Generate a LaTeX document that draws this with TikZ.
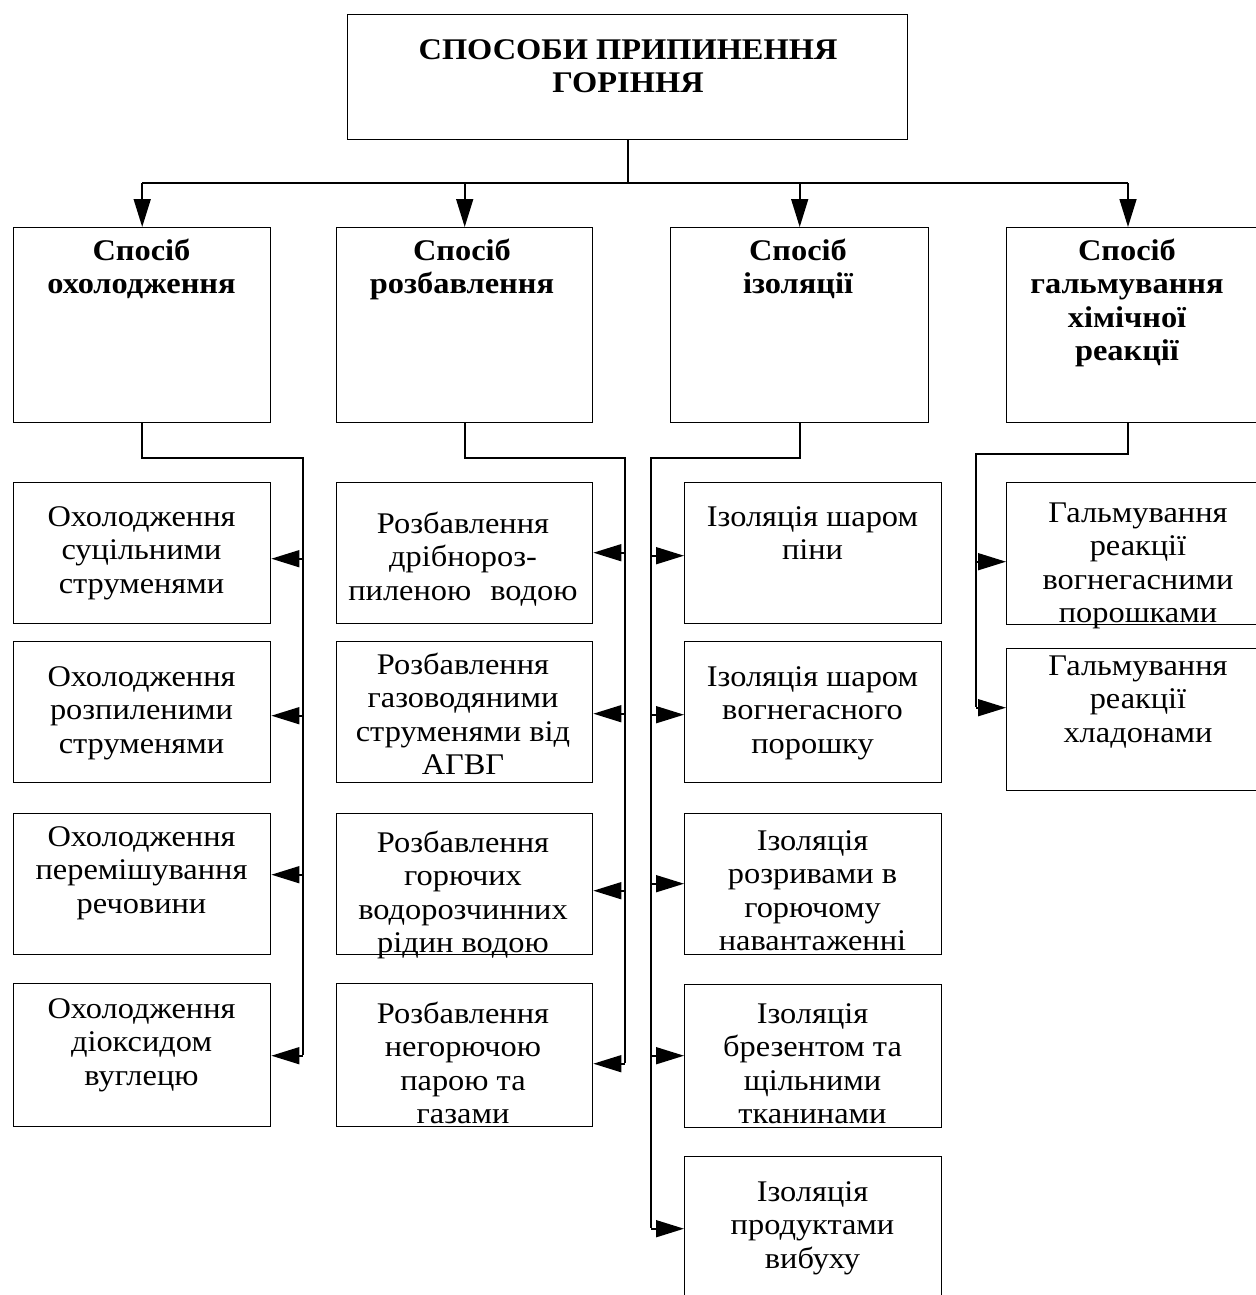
\documentclass[tikz,border=0pt]{standalone}
\usepackage{fontspec}
\setmainfont{Liberation Serif}[FakeStretch=1.08]
\usetikzlibrary{arrows.meta,calc}
\newcommand\fs{\rule{0pt}{24pt}}
\begin{document}
\begin{tikzpicture}[x=1pt,y=-1pt,
  box/.style={draw, line width=1.4pt, inner sep=0pt, anchor=north west},
  txt/.style={inner sep=0pt, anchor=north, align=center, font=\fontsize{30}{33.5}\selectfont},
  btxt/.style={inner sep=0pt, anchor=north, align=center, font=\fontsize{30}{33.5}\selectfont\bfseries},
  conn/.style={line width=1.6pt},
  arr/.style={conn, -{Triangle[length=28pt,width=17pt]}},
  tip/.style={conn, {Triangle[length=28pt,width=17pt]}-}]
\useasboundingbox (0,0) rectangle (1255,1295);
% top
\node[box, minimum width=560pt, minimum height=125pt] (top) at (347,14) {};
\node[btxt] (topt) at (628,35) {\fs СПОСОБИ ПРИПИНЕННЯ\\ГОРІННЯ};
% level 1
\node[box, minimum width=257pt, minimum height=195pt] (l1) at (13,227) {};
\node[box, minimum width=256pt, minimum height=195pt] (l2) at (336,227) {};
\node[box, minimum width=258pt, minimum height=195pt] (l3) at (670,227) {};
\node[box, minimum width=262pt, minimum height=195pt] (l4) at (1006,227) {};
\node[btxt] (l1t) at (141.5,236) {\fs Спосіб\\охолодження};
\node[btxt] (l2t) at (462,236) {\fs Спосіб\\розбавлення};
\node[btxt] (l3t) at (798,236) {\fs Спосіб\\ізоляції};
\node[btxt] (l4t) at (1127,236) {\fs Спосіб\\гальмування\\хімічної\\реакції};
% level 2 column 1
\node[box, minimum width=257pt, minimum height=141pt] (c1a) at (13,482) {};
\node[box, minimum width=257pt, minimum height=141pt] (c1b) at (13,641) {};
\node[box, minimum width=257pt, minimum height=141pt] (c1c) at (13,813) {};
\node[box, minimum width=257pt, minimum height=143pt] (c1d) at (13,983) {};
\node[txt] (c1at) at (141.5,502) {\fs Охолодження\\суцільними\\струменями};
\node[txt] (c1bt) at (141.5,662) {\fs Охолодження\\розпиленими\\струменями};
\node[txt] (c1ct) at (141.5,822) {\fs Охолодження\\перемішування\\речовини};
\node[txt] (c1dt) at (141.5,994) {\fs Охолодження\\діоксидом\\вуглецю};
% level 2 column 2
\node[box, minimum width=256pt, minimum height=141pt] (c2a) at (336,482) {};
\node[box, minimum width=256pt, minimum height=141pt] (c2b) at (336,641) {};
\node[box, minimum width=256pt, minimum height=141pt] (c2c) at (336,813) {};
\node[box, minimum width=256pt, minimum height=143pt] (c2d) at (336,983) {};
\node[txt] (c2at) at (463,509) {\fs Розбавлення\\дрібнороз-\\пиленою\hspace{19pt}водою};
\node[txt] (c2bt) at (463,650) {\fs Розбавлення\\газоводяними\\струменями від\\АГВГ};
\node[txt] (c2ct) at (463,828) {\fs Розбавлення\\горючих\\водорозчинних\\рідин водою};
\node[txt] (c2dt) at (463,999) {\fs Розбавлення\\негорючою\\парою та\\газами};
% level 2 column 3
\node[box, minimum width=257pt, minimum height=141pt] (c3a) at (684,482) {};
\node[box, minimum width=257pt, minimum height=141pt] (c3b) at (684,641) {};
\node[box, minimum width=257pt, minimum height=141pt] (c3c) at (684,813) {};
\node[box, minimum width=257pt, minimum height=143pt] (c3d) at (684,984) {};
\node[box, minimum width=257pt, minimum height=141pt] (c3e) at (684,1156) {};
\node[txt] (c3at) at (812.5,502) {\fs Ізоляція шаром\\піни};
\node[txt] (c3bt) at (812.5,662) {\fs Ізоляція шаром\\вогнегасного\\порошку};
\node[txt] (c3ct) at (812.5,826) {\fs Ізоляція\\розривами в\\горючому\\навантаженні};
\node[txt] (c3dt) at (812.5,999) {\fs Ізоляція\\брезентом та\\щільними\\тканинами};
\node[txt] (c3et) at (812.5,1177) {\fs Ізоляція\\продуктами\\вибуху};
% level 2 column 4
\node[box, minimum width=264pt, minimum height=142pt] (c4a) at (1006,482) {};
\node[box, minimum width=264pt, minimum height=142pt] (c4b) at (1006,648) {};
\node[txt] (c4at) at (1138,498) {\fs Гальмування\\реакції\\вогнегасними\\порошками};
\node[txt] (c4bt) at (1138,651) {\fs Гальмування\\реакції\\хладонами};
% top connectors
\coordinate (hub) at (628,183);
\coordinate (h4) at (1128,183);
\draw[conn] (top.south) -- (top.south |- hub);
\draw[conn] (l1.north |- hub) -- (h4);
\draw[arr] (l1.north |- hub) -- (l1.north);
\draw[arr] (l2.north |- hub) -- (l2.north);
\draw[arr] (l3.north |- hub) -- (l3.north);
\draw[arr] (h4) -- (h4 |- l4.north);
% buses
\coordinate (k1) at (303,458); \coordinate (k1e) at (303,1055);
\coordinate (k2) at (625,458); \coordinate (k2e) at (625,1063);
\coordinate (k3) at (651,458); \coordinate (k3e) at (651,1228);
\coordinate (k4) at (976,454); \coordinate (k4e) at (976,707);
\draw[conn] (l1.south) |- (k1) -- (k1e);
\draw[conn] (l2.south) |- (k2) -- (k2e);
\draw[conn] (l3.south) |- (k3) -- (k3e);
\draw[conn] (h4 |- l4.south) |- (k4) -- (k4e);
% column 1 arrows
\draw[tip] ($(c1a.east)+(0,5.5)$) coordinate (t) -- (t -| k1);
\draw[tip] ($(c1b.east)+(0,3.5)$) coordinate (t) -- (t -| k1);
\draw[tip] ($(c1c.east)+(0,-9.5)$) coordinate (t) -- (t -| k1);
\draw[tip] ($(c1d.east)+(0,0.5)$) coordinate (t) -- (t -| k1);
% column 2 arrows
\draw[tip] ($(c2a.east)+(0,-0.5)$) coordinate (t) -- (t -| k2);
\draw[tip] ($(c2b.east)+(0,1.5)$) coordinate (t) -- (t -| k2);
\draw[tip] ($(c2c.east)+(0,6.5)$) coordinate (t) -- (t -| k2);
\draw[tip] ($(c2d.east)+(0,8.5)$) coordinate (t) -- (t -| k2);
% column 3 arrows
\draw[tip] ($(c3a.west)+(0,2.5)$) coordinate (t) -- (t -| k3);
\draw[tip] ($(c3b.west)+(0,2.5)$) coordinate (t) -- (t -| k3);
\draw[tip] ($(c3c.west)+(0,-0.5)$) coordinate (t) -- (t -| k3);
\draw[tip] ($(c3d.west)+(0,-0.5)$) coordinate (t) -- (t -| k3);
\draw[tip] ($(c3e.west)+(0,1.5)$) coordinate (t) -- (t -| k3);
% column 4 arrows
\draw[tip] ($(c4a.west)+(0,8)$) coordinate (t) -- (t -| k4);
\draw[tip] ($(c4b.west)+(0,-12)$) coordinate (t) -- (t -| k4);
\end{tikzpicture}
\end{document}
